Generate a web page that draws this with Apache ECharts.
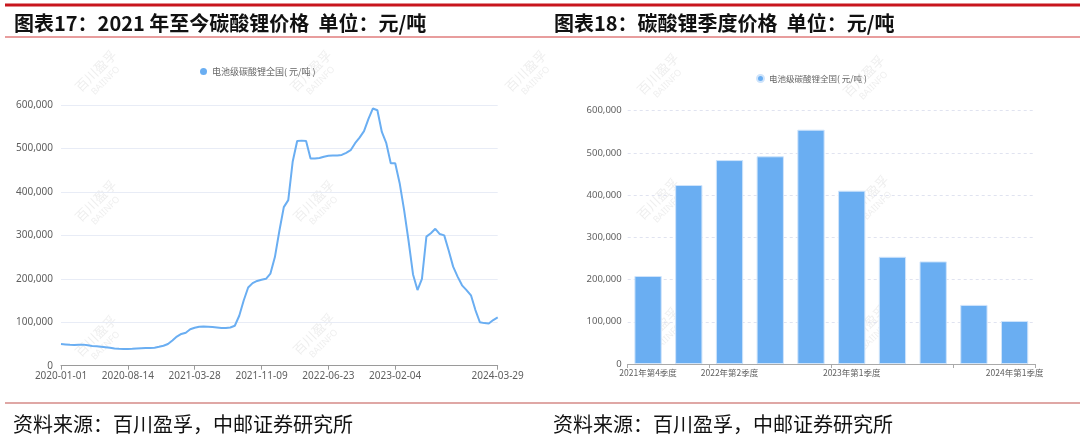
<!DOCTYPE html>
<html>
<head>
<meta charset="utf-8">
<script src="https://cdn.jsdelivr.net/npm/echarts@6/dist/echarts.min.js"></script>
<style>
html,body{margin:0;padding:0;background:#fff;}
#c{width:1080px;height:446px;}
</style>
</head>
<body>
<div id="c"></div>
<script>
// ---- Left chart: daily-ish price series (sampled) ----
const lineDates = [
 '2020-01-01','2020-01-16','2020-01-31','2020-02-15','2020-03-01','2020-03-16','2020-03-31','2020-04-15','2020-04-30','2020-05-15',
 '2020-05-30','2020-06-14','2020-06-29','2020-07-14','2020-07-29','2020-08-14','2020-08-29','2020-09-13','2020-09-28','2020-10-13',
 '2020-10-28','2020-11-12','2020-11-27','2020-12-12','2020-12-27','2021-01-11','2021-01-26','2021-02-10','2021-02-25','2021-03-12',
 '2021-03-28','2021-04-12','2021-04-27','2021-05-12','2021-05-27','2021-06-11','2021-06-26','2021-07-11','2021-07-26','2021-08-10',
 '2021-08-25','2021-09-09','2021-09-24','2021-10-09','2021-10-24','2021-11-09','2021-11-24','2021-12-09','2021-12-24','2022-01-08',
 '2022-01-23','2022-02-07','2022-02-22','2022-03-09','2022-03-24','2022-04-08','2022-04-23','2022-05-08','2022-05-23','2022-06-07',
 '2022-06-23','2022-07-08','2022-07-23','2022-08-07','2022-08-22','2022-09-06','2022-09-21','2022-10-06','2022-10-21','2022-11-05',
 '2022-11-20','2022-12-05','2022-12-20','2023-01-04','2023-01-19','2023-02-04','2023-02-22','2023-03-12','2023-03-30','2023-04-17',
 '2023-05-05','2023-05-23','2023-06-10','2023-06-28','2023-07-16','2023-08-03','2023-08-21','2023-09-08','2023-09-26','2023-10-14',
 '2023-11-01','2023-11-19','2023-12-07','2023-12-25','2024-01-12','2024-01-30','2024-02-17','2024-03-06','2024-03-29'
];
const linePrices = [
 50000,49000,48000,47500,48000,48500,47000,45500,44500,43500,
 42500,41500,39500,38800,38500,38400,38800,39500,40000,40500,
 41000,41500,43500,46000,50000,58000,67000,73000,76000,84000,
 87500,89500,90000,89500,89000,88000,87000,87000,88000,92000,
 115000,150000,180000,190000,195000,198000,200000,212000,250000,310000,
 365000,381000,470000,517000,518000,517000,477000,477000,478000,481000,
 483000,484000,484000,485000,490000,496000,512000,525000,540000,568000,
 592000,588000,538000,512000,466000,466000,420000,358000,287000,210000,
 174000,200000,297000,305000,315000,303000,300000,265000,228000,205000,
 185000,174000,162000,128000,100000,98000,97000,105000,111000
];
const lineTickLabels = ['2020-01-01','2020-08-14','2021-03-28','2021-11-09','2022-06-23','2023-02-04','2024-03-29'];

// ---- Right chart: quarterly prices ----
const quarters = ['2021年第4季度','2022年第1季度','2022年第2季度','2022年第3季度','2022年第4季度',
                  '2023年第1季度','2023年第2季度','2023年第3季度','2023年第4季度','2024年第1季度'];
const quarterPrices = [208500,424000,483000,492000,555000,410500,254000,243000,140000,102000];
const quarterLabelShown = ['2021年第4季度','2022年第2季度','2023年第1季度','2024年第1季度'];
const quarterTickAt = ['2021年第4季度','2022年第2季度','2023年第1季度','2023年第4季度'];

const seriesName = '电池级碳酸锂全国( 元/吨 )';
const titleLeft = '图表17：2021 年至今碳酸锂价格  单位：元/吨';
const titleRight = '图表18：碳酸锂季度价格  单位：元/吨';
const sourceText = '资料来源：百川盈孚，中邮证券研究所';

const BLUE = '#6aaef2';
const FONT = '"Noto Sans", "Noto Sans CJK SC", sans-serif';
const CJK = '"Noto Sans CJK SC", sans-serif';
const fmt = v => Number(v).toLocaleString('en-US');

function watermark(cx, cy) {
  return {
    type: 'group', x: cx, y: cy, rotation: Math.PI / 4, z: 100, silent: true,
    children: [
      { type: 'text', style: { text: '百川盈孚', x: 0, y: -6, align: 'center', verticalAlign: 'middle',
        font: '13px ' + CJK, fill: 'rgba(160,160,160,0.18)' } },
      { type: 'text', style: { text: 'BAIINFO', x: 0, y: 8, align: 'center', verticalAlign: 'middle',
        font: '9px ' + FONT, fill: 'rgba(160,160,160,0.18)' } }
    ]
  };
}

const graphics = [
  { type: 'rect', shape: { x: 5, y: 3.5, width: 1075, height: 3 }, style: { fill: '#c8161d' }, silent: true },
  { type: 'rect', shape: { x: 5, y: 36.5, width: 1075, height: 1 }, style: { fill: '#d23c3c' }, silent: true },
  { type: 'rect', shape: { x: 5, y: 402.5, width: 1075, height: 1 }, style: { fill: '#c0504d' }, silent: true },
  { type: 'text', style: { text: titleLeft, x: 14, y: 23, verticalAlign: 'middle', font: 'bold 20px ' + CJK, fill: '#111' } },
  { type: 'text', style: { text: titleRight, x: 554, y: 23, verticalAlign: 'middle', font: 'bold 20px ' + CJK, fill: '#111' } },
  { type: 'text', style: { text: sourceText, x: 13, y: 424, verticalAlign: 'middle', font: '20px ' + CJK, fill: '#111' } },
  { type: 'text', style: { text: sourceText, x: 553, y: 424, verticalAlign: 'middle', font: '20px ' + CJK, fill: '#111' } }
];
[[100,75],[315,75],[530,75],[100,205],[318,205],[100,340],[318,338],
 [662,78],[868,80],[662,203],[872,200],[662,332],[870,330]].forEach(p => graphics.push(watermark(p[0], p[1])));

const leftLabelIdx = lineTickLabels.map(d => lineDates.indexOf(d));
const qLabelIdx = quarterLabelShown.map(q => quarters.indexOf(q));
const qTickIdx = quarterTickAt.map(q => quarters.indexOf(q));

const option = {
  animation: false,
  backgroundColor: '#fff',
  textStyle: { fontFamily: FONT },
  legend: [
    { data: [seriesName], left: 195, top: 62, icon: 'circle', itemWidth: 7, itemHeight: 7, itemGap: 5,
      textStyle: { fontSize: 9, color: '#666', fontFamily: CJK }, selectedMode: false },
    { data: [seriesName + ' '], left: 751, top: 69, icon: 'circle', itemWidth: 7, itemHeight: 7, itemGap: 5,
      textStyle: { fontSize: 8.5, color: '#666', fontFamily: CJK }, selectedMode: false }
  ],
  grid: [
    { left: 61, right: 582.3, top: 105, bottom: 80.3, containLabel: false },
    { left: 627.7, right: 45, top: 110.7, bottom: 82, containLabel: false }
  ],
  xAxis: [
    { type: 'category', gridIndex: 0, data: lineDates, boundaryGap: false,
      axisLine: { lineStyle: { color: '#9a9a9a' } },
      axisTick: { show: true, length: 4, lineStyle: { color: '#9a9a9a' }, interval: (i) => leftLabelIdx.includes(i) },
      axisLabel: { interval: (i) => leftLabelIdx.includes(i), fontSize: 10, color: '#5f5f5f', margin: 5, fontFamily: FONT,
                   showMaxLabel: true, showMinLabel: true } },
    { type: 'category', gridIndex: 1, data: quarters, boundaryGap: true,
      axisLine: { lineStyle: { color: '#aaa' } },
      axisTick: { show: true, length: 4, lineStyle: { color: '#aaa' }, interval: (i) => qTickIdx.includes(i) },
      axisLabel: { interval: (i) => qLabelIdx.includes(i), fontSize: 8.5, color: '#5f5f5f', margin: 5, fontFamily: CJK } }
  ],
  yAxis: [
    { type: 'value', gridIndex: 0, min: 0, max: 600000, interval: 100000,
      axisLine: { show: false }, axisTick: { show: false },
      splitLine: { lineStyle: { color: '#e8ecf6', width: 1 } },
      axisLabel: { formatter: fmt, fontSize: 10, color: '#5f5f5f', margin: 8, fontFamily: FONT } },
    { type: 'value', gridIndex: 1, min: 0, max: 600000, interval: 100000,
      axisLine: { show: false }, axisTick: { show: false },
      splitLine: { lineStyle: { color: '#e0e3f0', type: [3, 3], width: 1 } },
      axisLabel: { formatter: fmt, fontSize: 9.5, color: '#5f5f5f', margin: 6, fontFamily: FONT } }
  ],
  series: [
    { name: seriesName, type: 'line', xAxisIndex: 0, yAxisIndex: 0, data: linePrices,
      showSymbol: false, symbol: 'circle', itemStyle: { color: BLUE }, lineStyle: { color: BLUE, width: 2 } },
    { name: seriesName + ' ', type: 'bar', xAxisIndex: 1, yAxisIndex: 1, data: quarterPrices,
      barWidth: '67%', itemStyle: { color: BLUE, borderColor: '#cfe4fb', borderWidth: 1 } }
  ],
  graphic: graphics
};

const chart = echarts.init(document.getElementById('c'), null, { renderer: 'canvas' });
chart.setOption(option);
</script>
</body>
</html>
